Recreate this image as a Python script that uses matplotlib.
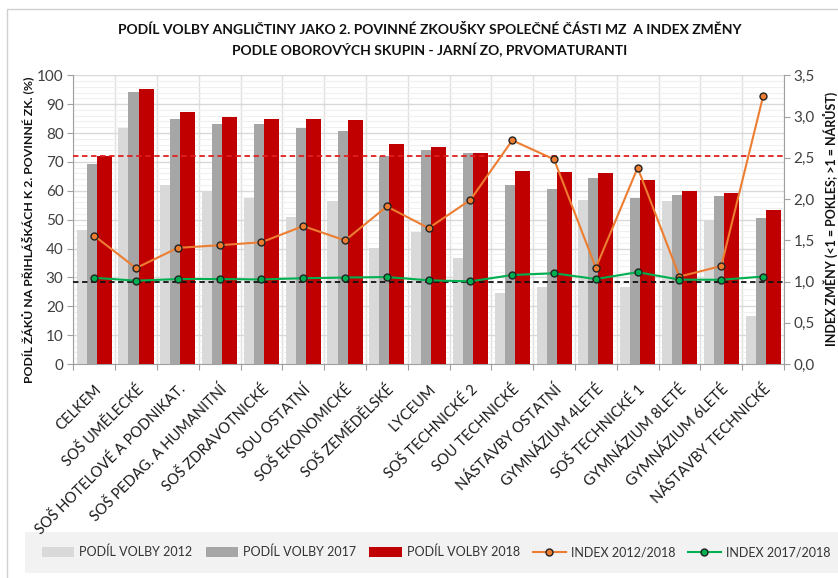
import matplotlib
matplotlib.use("Agg")
import matplotlib.pyplot as plt
from matplotlib.patches import Rectangle
from matplotlib.ticker import FuncFormatter, MultipleLocator, FixedLocator
import numpy as np

plt.rcParams['font.family'] = ['Lato', 'DejaVu Sans']

categories = ["CELKEM", "SOŠ UMĚLECKÉ", "SOŠ HOTELOVÉ A PODNIKAT.", "SOŠ PEDAG. A HUMANITNÍ",
              "SOŠ ZDRAVOTNICKÉ", "SOU OSTATNÍ", "SOŠ EKONOMICKÉ", "SOŠ ZEMĚDĚLSKÉ", "LYCEUM",
              "SOŠ TECHNICKÉ 2", "SOU TECHNICKÉ", "NÁSTAVBY OSTATNÍ", "GYMNÁZIUM 4LETÉ",
              "SOŠ TECHNICKÉ 1", "GYMNÁZIUM 8LETÉ", "GYMNÁZIUM 6LETÉ", "NÁSTAVBY TECHNICKÉ"]

podil_2012 = [46.4, 81.9, 62.1, 59.7, 57.6, 50.9, 56.5, 40.1, 45.7, 36.7, 24.7, 26.8, 56.8, 26.7, 56.5, 49.9, 16.5]
podil_2017 = [69.2, 94.3, 84.9, 83.0, 83.0, 81.9, 80.8, 72.2, 74.1, 73.0, 62.0, 60.6, 64.3, 57.4, 58.4, 58.1, 50.6]
podil_2018 = [72.2, 95.1, 87.3, 85.7, 84.9, 84.9, 84.6, 76.2, 75.2, 73.1, 66.9, 66.5, 66.2, 63.6, 59.8, 59.3, 53.5]
index_2012_2018 = [1.555, 1.163, 1.408, 1.44, 1.476, 1.672, 1.498, 1.91, 1.647, 1.99, 2.712, 2.481, 1.166, 2.38, 1.06, 1.188, 3.245]
index_2017_2018 = [1.045, 1.01, 1.03, 1.03, 1.025, 1.04, 1.048, 1.054, 1.015, 1.002, 1.079, 1.1, 1.03, 1.113, 1.023, 1.021, 1.06]
ref_podil_celkem = 72.2
ref_index = 1.0

W, H = 838, 578
fig = plt.figure(figsize=(W / 100, H / 100), dpi=100)

# outer chart border
fig.patches.append(Rectangle((7 / W, -0.05), 1.2, (1 - 9 / H) + 0.05, transform=fig.transFigure,
                             facecolor='none', edgecolor='#d0d0d0', linewidth=1.0, zorder=-10))
# legend background
fig.patches.append(Rectangle((25 / W, 1 - 573 / H), 1.0, (573 - 532) / H, transform=fig.transFigure,
                             facecolor='#f2f2f2', edgecolor='none', zorder=-9))

AX_L, AX_R, AX_T, AX_B = 73.3, 784.0, 75.3, 364.0
ax = fig.add_axes([AX_L / W, 1 - AX_B / H, (AX_R - AX_L) / W, (AX_B - AX_T) / H])
ax.set_facecolor('none')
x = np.arange(len(categories))
bw = 0.36
off = 0.24
ax.bar(x - off, podil_2012, bw, color='#d9d9d9', zorder=2, label='PODÍL VOLBY 2012')
ax.bar(x, podil_2017, bw, color='#a6a6a6', zorder=3, label='PODÍL VOLBY 2017')
ax.bar(x + off, podil_2018, bw, color='#c00000', zorder=4, label='PODÍL VOLBY 2018')
ax.axhline(ref_podil_celkem, color='#e02020', linestyle=(0, (3, 2)), linewidth=1.3, zorder=6)

ax.set_xlim(-0.5, len(categories) - 0.5)
ax.set_ylim(0, 100)
ax.yaxis.set_major_locator(MultipleLocator(10))
ax.yaxis.set_minor_locator(MultipleLocator(2))
ax.grid(axis='y', which='major', color='#d9d9d9', linewidth=1.0, zorder=0)
ax.grid(axis='y', which='minor', color='#f0f0f0', linewidth=0.8, zorder=0)
ax.xaxis.set_major_locator(FixedLocator(np.arange(-0.5, len(categories), 1.0)))
ax.xaxis.set_major_formatter(FuncFormatter(lambda v, p: ''))
ax.xaxis.set_minor_locator(FixedLocator(x))
ax.grid(axis='x', which='major', color='#e0e0e0', linewidth=1.0, zorder=0)
ax.set_axisbelow(True)
ax.set_xticks(x, minor=True)
ax.set_xticklabels(categories, minor=True, rotation=45, ha='right', va='top',
                   rotation_mode='anchor', fontsize=10.5, color='#1a1a1a')
ax.tick_params(axis='x', which='minor', length=0, pad=13)
ax.tick_params(axis='x', which='major', length=4, color='#a0a0a0', direction='out')
ax.tick_params(axis='y', which='major', length=4, color='#a0a0a0', labelsize=11, labelcolor='#404040', pad=3)
ax.tick_params(axis='y', which='minor', length=0)
for s in ['top', 'right']:
    ax.spines[s].set_visible(False)
ax.spines['left'].set_color('#a0a0a0')
ax.spines['bottom'].set_color('#a0a0a0')
ax.set_ylabel('PODÍL ŽÁKŮ NA PŘIHLÁŠKÁCH K 2. POVINNÉ ZK. (%)', fontsize=8.8, fontweight='bold',
              color='#111111', va='center', ha='center')
ax.yaxis.set_label_coords((28 - AX_L) / (AX_R - AX_L), (AX_B - 230) / (AX_B - AX_T))

ax2 = ax.twinx()
ax2.set_ylim(0, 3.5)
ax2.yaxis.set_major_locator(MultipleLocator(0.5))
ax2.yaxis.set_major_formatter(FuncFormatter(lambda v, p: f"{v:.1f}".replace('.', ',')))
ax2.tick_params(axis='y', length=4, color='#a0a0a0', labelsize=11, labelcolor='#404040', pad=3)
for s in ['top', 'left', 'bottom']:
    ax2.spines[s].set_visible(False)
ax2.spines['right'].set_color('#a0a0a0')
ax2.axhline(ref_index, color='#111111', linestyle=(0, (3, 2)), linewidth=1.3, zorder=3)
ax2.plot(x, index_2012_2018, color='#ed7d31', linewidth=1.5, marker='o', markersize=5,
         markerfacecolor='#ed7d31', markeredgecolor='#222222', markeredgewidth=1.0, zorder=5,
         label='INDEX 2012/2018')
ax2.plot(x, index_2017_2018, color='#00b050', linewidth=1.5, marker='o', markersize=5,
         markerfacecolor='#00b050', markeredgecolor='#222222', markeredgewidth=1.0, zorder=5,
         label='INDEX 2017/2018')
ax2.set_ylabel('INDEX ZMĚNY (<1 = POKLES; >1 = NÁRŮST)', fontsize=9, fontweight='bold',
               color='#111111', rotation=90, va='center', ha='center')
ax2.yaxis.set_label_coords((830 - AX_L) / (AX_R - AX_L), (AX_B - 219) / (AX_B - AX_T))

fig.text(430 / W, 1 - 30 / H, 'PODÍL VOLBY ANGLIČTINY JAKO 2. POVINNÉ ZKOUŠKY SPOLEČNÉ ČÁSTI MZ  A INDEX ZMĚNY',
         ha='center', va='center', fontsize=10, fontweight='bold', color='#111111')
fig.text(430 / W, 1 - 50 / H, 'PODLE OBOROVÝCH SKUPIN - JARNÍ ZO, PRVOMATURANTI',
         ha='center', va='center', fontsize=10, fontweight='bold', color='#111111')

h1, l1 = ax.get_legend_handles_labels()
h2, l2 = ax2.get_legend_handles_labels()
leg = fig.legend(h1 + h2, l1 + l2, loc='center', bbox_to_anchor=(436 / W, 1 - 552 / H), ncol=5,
                 frameon=False, fontsize=9, handlelength=2.6, handleheight=0.8, columnspacing=1.05,
                 handletextpad=0.4, labelcolor='#333333')

fig.savefig('out.png', dpi=100)
